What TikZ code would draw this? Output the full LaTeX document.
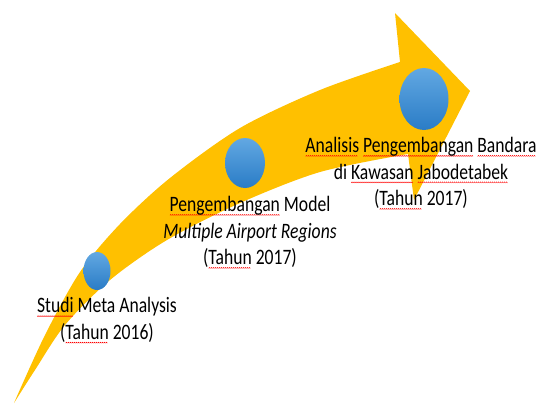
\documentclass[tikz,border=0pt]{standalone}
\usepackage{fontspec}
\setmainfont{Carlito}
\usepackage{xcolor}
\usepackage{tikz}
\usetikzlibrary{positioning, shapes.geometric}
\definecolor{arrowgold}{HTML}{FFC000}
\definecolor{dotlight}{HTML}{62A8E2}
\definecolor{dotdark}{HTML}{2A7CC6}
% red wavy spell-check line under a word
\newsavebox{\wavebox}
\sbox{\wavebox}{\tikz\draw[red, line width=0.5pt] (0,0) -- (1pt,1pt) -- (2pt,0);}
\newlength{\spelllen}
\newcommand{\spell}[1]{\settowidth{\spelllen}{#1}\rlap{\raisebox{-4pt}[0pt][0pt]{\leaders\copy\wavebox\hskip\spelllen}}#1}
\tikzstyle{milestone}=[ellipse, inner sep=0pt, top color=dotlight, bottom color=dotdark, draw=none]
\tikzstyle{lbl}=[align=center, inner sep=0pt, xscale=0.8, font=\fontsize{22}{26.5}\selectfont]

\begin{document}
\begin{tikzpicture}[x=1pt, y=-1pt]
\useasboundingbox (0,0) rectangle (540,404);

% Arrow
\fill[arrowgold] plot[smooth] coordinates {(14,403) (45,335) (80,272) (120,224) (170,178) (240,128) (320,90) (400,62)}
    -- (395,13) -- (470,91) -- (414,200)
    -- plot[smooth] coordinates {(408,154) (320,172) (240,203) (167,240) (110,280) (65,325) (35,370) (14,403)} -- cycle;

% Milestones
\node[milestone, minimum width=27, minimum height=38] (m1) at (97,271) {};
\node[milestone, minimum width=40, minimum height=50] (m2) at (245,163) {};
\node[milestone, minimum width=49, minimum height=62] (m3) at (424,99) {};

% Labels
\node[lbl] (t1) at (107,320) {\spell{Studi} Meta Analysis\\(\spell{Tahun} 2016)};
\node[lbl] (t2) at (250,232) {\spell{Pengembangan} Model\\\textit{Multiple Airport Regions}\\(\spell{Tahun} 2017)};
\node[lbl] (t3) at (421,173) {\spell{Analisis} \spell{Pengembangan} \spell{Bandara}\\di \spell{Kawasan} \spell{Jabodetabek}\\(\spell{Tahun} 2017)};

\end{tikzpicture}
\end{document}
